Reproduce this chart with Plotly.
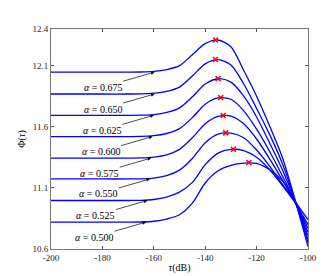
import plotly.graph_objects as go

tau = [-200, -190, -180, -170, -165, -160, -155, -150, -145, -140, -135, -130, -125, -120, -115, -110, -105, -100]

alphas = ["0.500", "0.525", "0.550", "0.575", "0.600", "0.625", "0.650", "0.675"]

phi_0500 = [10.82, 10.82, 10.82, 10.82, 10.821, 10.827, 10.845, 10.88, 10.975, 11.14, 11.24, 11.285, 11.303, 11.30, 11.25, 11.16, 10.99, 10.84]
phi_0525 = [10.997, 10.997, 10.997, 10.997, 10.998, 11.005, 11.025, 11.065, 11.145, 11.29, 11.385, 11.415, 11.405, 11.35, 11.25, 11.12, 10.98, 10.80]
phi_0550 = [11.173, 11.173, 11.173, 11.173, 11.174, 11.18, 11.20, 11.245, 11.34, 11.47, 11.54, 11.548, 11.51, 11.41, 11.28, 11.13, 10.98, 10.77]
phi_0575 = [11.344, 11.344, 11.344, 11.344, 11.345, 11.352, 11.37, 11.415, 11.51, 11.625, 11.685, 11.688, 11.625, 11.50, 11.34, 11.165, 10.98, 10.74]
phi_0600 = [11.52, 11.52, 11.52, 11.52, 11.521, 11.527, 11.545, 11.585, 11.675, 11.785, 11.836, 11.825, 11.73, 11.58, 11.40, 11.20, 10.985, 10.71]
phi_0625 = [11.694, 11.694, 11.694, 11.694, 11.695, 11.70, 11.717, 11.755, 11.845, 11.95, 11.993, 11.965, 11.85, 11.68, 11.47, 11.25, 10.99, 10.68]
phi_0650 = [11.868, 11.868, 11.868, 11.868, 11.869, 11.875, 11.89, 11.925, 12.015, 12.115, 12.15, 12.105, 11.95, 11.75, 11.54, 11.30, 10.995, 10.65]
phi_0675 = [12.047, 12.047, 12.047, 12.047, 12.048, 12.053, 12.068, 12.10, 12.19, 12.28, 12.31, 12.255, 12.06, 11.85, 11.61, 11.35, 11.00, 10.62]

series = [phi_0500, phi_0525, phi_0550, phi_0575, phi_0600, phi_0625, phi_0650, phi_0675]

peak_tau = [-123, -129, -132, -133, -134, -135, -136, -136]
peak_phi = [11.307, 11.416, 11.55, 11.692, 11.839, 11.994, 12.151, 12.31]

arrow_tau = [-163, -162.5, -161.5, -161, -160.5, -160, -159.7, -159.7]

x_ticks = [-200, -180, -160, -140, -120, -100]
y_ticks = [10.6, 11.1, 11.6, 12.1, 12.4]

serif = "Liberation Serif, DejaVu Serif, serif"

fig = go.Figure()
for vals in series:
    fig.add_trace(go.Scatter(x=tau, y=vals, mode="lines",
                             line=dict(color="#0000FF", width=1.3, shape="spline", smoothing=0.8),
                             showlegend=False, hoverinfo="skip"))
fig.add_trace(go.Scatter(x=peak_tau, y=peak_phi, mode="markers",
                         marker=dict(symbol="x-thin", size=5, color="#FF0000",
                                     line=dict(color="#FF0000", width=1.5)),
                         showlegend=False))

annotations = []
for a, vals, xt in zip(alphas, series, arrow_tau):
    annotations.append(dict(
        x=xt, y=vals[0], xref="x", yref="y",
        text="<i>α</i> = " + a, showarrow=True,
        ax=-52, ay=15, arrowhead=2, arrowsize=1, arrowwidth=0.7,
        arrowcolor="#000000", standoff=0, startstandoff=0,
        font=dict(family=serif, size=10, color="#000000"),
    ))

fig.update_layout(
    width=332, height=276,
    margin=dict(l=43, r=32, t=21, b=31),
    paper_bgcolor="white", plot_bgcolor="white",
    font=dict(family=serif, size=9, color="#222222"),
    annotations=annotations,
)
fig.update_xaxes(range=[-200, -100], tickvals=x_ticks, ticktext=[str(v) for v in x_ticks],
                 ticks="inside", ticklen=3, tickcolor="#555555", showgrid=False, zeroline=False,
                 showline=True, linecolor="#777777", linewidth=1, mirror="allticks",
                 title=dict(text="<i>τ</i>(dB)", font=dict(family=serif, size=10, color="#000000"), standoff=2),
                 tickfont=dict(family=serif, size=9, color="#222222"))
fig.update_yaxes(range=[10.6, 12.4], tickvals=y_ticks, ticktext=["10.6", "11.1", "11.6", "12.1", "12.4"],
                 ticks="inside", ticklen=3, tickcolor="#555555", showgrid=False, zeroline=False,
                 showline=True, linecolor="#777777", linewidth=1, mirror="allticks",
                 title=dict(text="Φ(<i>τ</i>)", font=dict(family=serif, size=10, color="#000000"), standoff=4),
                 tickfont=dict(family=serif, size=9, color="#222222"))

fig.write_html("out.html")
